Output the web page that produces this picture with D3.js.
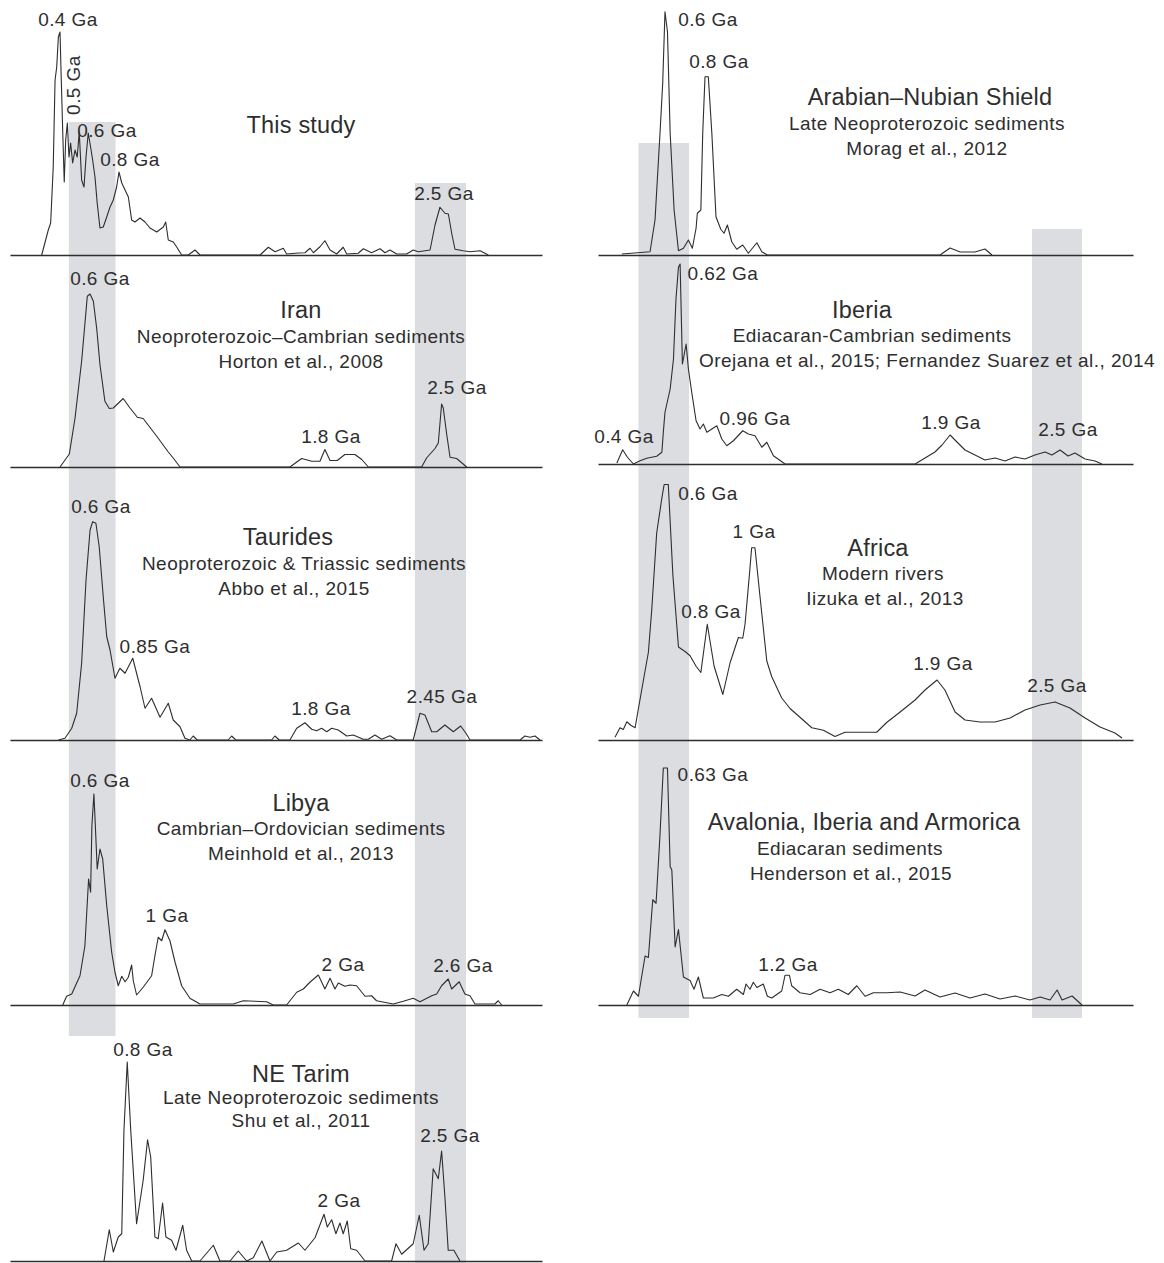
<!DOCTYPE html>
<html>
<head>
<meta charset="utf-8">
<script src="https://cdn.jsdelivr.net/npm/d3@7"></script>
<style>
    body { margin: 0; background: #fff; }
    svg { display: block; }
    text { font-family: "Liberation Sans", Arial, Helvetica, sans-serif; fill: #2e2e2e; }
</style>
</head>
<body>
<svg id="chart"></svg>
<script>
/*
    Detrital zircon age spectra, 9 panels (ages in Ga, relative probability 0-100)
 */

// ---- left column ----
const thisStudyAge = [0.326,0.362,0.375,0.389,0.399,0.408,0.417,0.426,0.431,0.441,0.449,0.457,0.466,0.475,0.484,0.495,0.508,0.520,0.531,0.544,0.557,0.568,0.580,0.593,0.604,0.617,0.629,0.644,0.662,0.681,0.699,0.717,0.735,0.748,0.763,0.781,0.799,0.817,0.835,0.863,0.890,0.917,0.954,0.990,1.003,1.017,1.044,1.063,1.090,1.126,1.163,1.190,1.518,1.563,1.600,1.645,1.663,1.727,1.763,1.791,1.809,1.845,1.872,1.900,1.936,1.972,1.991,2.054,2.082,2.127,2.173,2.200,2.227,2.264,2.318,2.354,2.382,2.446,2.473,2.500,2.527,2.546,2.564,2.582,2.627,2.664,2.719,2.764];
const thisStudyProb = [0,10,12.8,35.2,70,75.2,87.2,89.2,75.2,48.8,29.2,46,52.8,39.2,44.8,36.8,42,39.2,49.2,30,27.2,39.2,48.8,43.2,38,31.2,20.8,10.8,11.2,15.2,19.2,22,27.2,33.2,28.8,26,23.2,14,13.2,14.8,13.2,10.8,9.2,11.2,13.2,6,5.2,3.2,0,0,2,0,0,3.1,1.3,2.7,0.4,0.8,0.9,2.7,0.9,3.3,5.7,2,0.4,3.1,0.4,0.7,2.5,0.9,2.5,0.9,2,0.4,0.4,2,1.3,2,12,19.1,16.7,16.4,8.7,2.3,1.7,1.3,1.7,0];

const iranAge = [0.426,0.477,0.508,0.544,0.575,0.590,0.608,0.626,0.644,0.671,0.695,0.717,0.771,0.808,0.848,0.880,0.954,1.017,1.044,1.081,1.681,1.745,1.800,1.845,1.872,1.900,1.939,1.981,2.036,2.073,2.109,2.400,2.427,2.473,2.491,2.509,2.518,2.537,2.555,2.591,2.646];
const iranProb = [0,5.2,19.6,42.3,68.3,69.2,66.3,55.6,41,26.3,23.4,23.6,27.4,23.6,19.9,19.4,12.3,6,3.6,0,0,3.4,2.3,2.3,7,2.6,2.6,5,5,3,0,0,3.6,7.4,9.6,25.2,23.6,13,3.9,3.4,0];

const tauridesAge = [0.417,0.453,0.490,0.517,0.544,0.568,0.590,0.604,0.622,0.640,0.662,0.681,0.699,0.726,0.753,0.781,0.823,0.863,0.890,0.926,0.972,1.017,1.044,1.081,1.108,1.135,1.153,1.175,1.344,1.363,1.386,1.581,1.599,1.623,1.681,1.718,1.763,1.800,1.827,1.854,1.882,1.909,1.945,1.991,2.027,2.081,2.109,2.145,2.182,2.227,2.264,2.354,2.391,2.418,2.455,2.482,2.527,2.573,2.613,2.642,2.664,2.937,2.964,2.991,3.019,3.046];
const tauridesProb = [0,0.7,4.7,10.7,30.7,64,84,87.3,86.7,77.3,57.3,41.3,36,24.7,28.7,26.7,32.7,21.3,12.7,16.7,9.1,14.7,8,5.3,0.7,0,1.6,0,0,1.6,0,0,1.6,0,0,4.7,6.9,4.3,3.7,4.7,3.3,4.7,4,1.6,2,0.3,0.3,2,0.3,1.7,0,0,10.7,10,3.3,3.3,6,3.3,5.6,2.7,0,0,1.6,1.1,1.6,0];

const libyaAge = [0.441,0.462,0.490,0.535,0.562,0.575,0.582,0.593,0.600,0.611,0.618,0.629,0.644,0.659,0.681,0.708,0.726,0.744,0.763,0.781,0.799,0.817,0.826,0.844,0.880,0.926,0.944,0.962,0.981,0.999,1.026,1.054,1.090,1.135,1.190,1.372,1.426,1.554,1.590,1.663,1.718,1.754,1.790,1.836,1.872,1.900,1.927,1.945,1.981,2.009,2.045,2.091,2.127,2.154,2.245,2.300,2.354,2.391,2.455,2.482,2.509,2.545,2.564,2.605,2.636,2.664,2.691,2.800,2.818,2.837];
const libyaProb = [0,3.5,4.4,11.7,23.7,41.1,50.4,45.1,71.7,84.4,73.1,54.4,62.4,58.4,39.7,21.1,13.1,7.7,11.5,9.3,11.1,16,9.7,4,7.1,11.7,19.7,27.1,25.7,30.1,25.7,17.1,7.7,2.7,0.4,0.4,1.7,1.3,0,0,5.1,6.4,9.1,12,6.4,10.7,6.4,8.8,7.5,8,7.7,3.5,3.7,1.7,0.4,1.5,2.7,1.3,3.7,4.4,7.7,10.4,6.4,9.3,4.4,3.7,0.4,0.4,1.7,0];

const tarimAge = [0.666,0.695,0.717,0.744,0.763,0.775,0.793,0.812,0.844,0.880,0.904,0.921,0.944,0.962,0.986,1.004,1.035,1.059,1.096,1.117,1.145,1.190,1.263,1.299,1.354,1.399,1.445,1.481,1.528,1.572,1.609,1.663,1.727,1.763,1.818,1.867,1.885,1.909,1.932,1.954,1.972,1.994,2.013,2.045,2.091,2.236,2.260,2.291,2.354,2.387,2.413,2.436,2.463,2.491,2.509,2.527,2.545,2.576,2.609];
const tarimProb = [0,12.5,3.6,9.6,10.9,52.3,79.6,52.3,14.9,32.3,48.5,41.6,9.6,8.9,23.2,9.6,8.3,4.3,14.3,4.3,0,0,6.3,0,0,4,0,1.3,8,0,3.6,4.3,7.2,4.3,9.3,18.7,13.6,16.5,10.9,15.2,10.9,16,4.9,4.3,0,0,6.9,2.7,6.9,18.3,4.3,6.9,36.9,32.9,44,25.6,4.3,4.3,0];

// ---- right column ----
const ansAge = [0.401,0.537,0.561,0.585,0.598,0.609,0.621,0.634,0.653,0.674,0.698,0.722,0.741,0.759,0.765,0.782,0.791,0.802,0.818,0.835,0.855,0.878,0.894,0.910,0.931,0.955,0.984,1.011,1.052,1.076,1.103,1.935,1.984,2.032,2.104,2.152,2.186];
const ansProb = [0.4,1.3,14,48.7,68.7,97.3,89.3,48.7,18,1.7,2.7,6,2.7,10.7,16.7,18,48.7,71.3,71.3,48.7,15.3,10.3,8.7,12,5.3,2.3,4,0.7,4.9,1.3,0,0,2.8,1.2,1.2,2.4,0];

const iberiaAge = [0.377,0.405,0.428,0.457,0.489,0.521,0.569,0.594,0.601,0.609,0.634,0.650,0.662,0.674,0.682,0.693,0.711,0.722,0.738,0.759,0.778,0.794,0.811,0.835,0.859,0.883,0.907,0.939,0.984,1.011,1.043,1.076,1.100,1.132,1.188,1.815,1.863,1.911,1.945,1.984,2.017,2.056,2.104,2.152,2.201,2.249,2.297,2.345,2.393,2.442,2.475,2.514,2.553,2.586,2.635,2.683,2.716];
const iberiaProb = [0.4,5.7,2.7,0,1.3,2.3,3.1,4.7,12.7,20.7,30,42,66,78.7,80,40,48,38,28.7,17.3,14,16,12.7,14,15.3,10,7.3,9.3,13.3,12,11.3,6.7,8.7,3.3,0,0,2.4,4.8,7.6,11.6,8.8,5.6,3.6,1.6,2.4,1.2,2.8,2,3.6,4.8,3.6,5.6,3.2,4.4,2,1.2,0];

const africaAge = [0.368,0.392,0.408,0.425,0.444,0.465,0.481,0.505,0.529,0.545,0.569,0.594,0.605,0.625,0.647,0.674,0.706,0.730,0.759,0.782,0.813,0.846,0.888,0.923,0.963,0.984,0.995,1.016,1.027,1.043,1.067,1.100,1.124,1.172,1.212,1.260,1.317,1.373,1.429,1.477,1.630,1.678,1.743,1.815,1.863,1.921,1.959,2.008,2.056,2.128,2.201,2.273,2.345,2.418,2.490,2.562,2.635,2.707,2.779,2.813];
const africaProb = [1.1,4.9,4.2,7.3,5.9,4.9,12.6,23.9,35.1,51.9,82.8,96.8,102.2,102.2,66,37.2,35.4,33.7,29.5,27,46.3,29.5,18.2,30.9,41,40.7,46.3,66,76.9,76.9,57.6,31.6,25.3,16.8,12.6,9.1,4.9,3.9,1.4,3.1,3.1,7,11.2,16,20,24,20,11.2,8,7.2,7.2,8.8,12,14,15.2,12.8,8.8,5.2,2.8,0.8];

const avaloniaAge = [0.425,0.457,0.481,0.513,0.529,0.550,0.566,0.585,0.601,0.621,0.634,0.642,0.658,0.674,0.698,0.730,0.749,0.770,0.794,0.842,0.883,0.915,0.955,0.987,1.000,1.019,1.035,1.052,1.083,1.103,1.124,1.172,1.188,1.209,1.220,1.260,1.309,1.357,1.405,1.445,1.493,1.534,1.574,1.614,1.678,1.743,1.815,1.863,1.935,2.008,2.080,2.152,2.225,2.297,2.369,2.418,2.466,2.500,2.524,2.572,2.620];
const avaloniaProb = [0,5.6,3.5,19.6,19,42.1,40.7,68.1,94.8,94.8,55.4,54,23.2,30.2,11.2,9.8,6.3,11.2,2.8,2.8,4.2,3.5,6.3,4.2,8.4,6.3,9.1,7,8.4,3.5,2.8,5.6,11.9,11.9,7.7,4.9,4.2,6.3,4.9,6.3,4.2,7.7,3.5,4.9,4.9,5.2,3.6,6,3.2,4.8,2.8,4.4,2.4,3.6,2,3.2,2,6,2,3.6,0];

// shaded age windows (Ga)
const bandAges = [[0.474, 0.729], [2.363, 2.642], [0.481, 0.725], [2.379, 2.620]];

const config = {
    width: 1164,
    height: 1263,
    unitPx: 250,          // px for 100 units of relative probability
    ink: "#2e2e2e",
    band: "#dcdde0",
    titleSize: 23.5,
    titleSpacing: 0.2,
    textSize: 19,
    textSpacing: 0.45
};

const xScales = {
    left: d3.scaleLinear().domain([0.153, 3.057]).range([10, 542]),
    right: d3.scaleLinear().domain([0.286, 2.866]).range([598, 1133])
};

// bands: column, ages, top, bottom
const bands = [
    {col: "left", ages: bandAges[0], top: 122, bottom: 1036},
    {col: "left", ages: bandAges[1], top: 183, bottom: 1263},
    {col: "right", ages: bandAges[2], top: 143, bottom: 1018},
    {col: "right", ages: bandAges[3], top: 229, bottom: 1018}
];

// text entries: [text, x, y, isTitle]
const panels = [
    {col: "left", base: 255, age: thisStudyAge, prob: thisStudyProb,
        texts: [["This study", 301, 133, 1], ["0.4 Ga", 68, 26], ["0.6 Ga", 107, 137], ["0.8 Ga", 130, 166], ["2.5 Ga", 444, 200]]},
    {col: "left", base: 467, age: iranAge, prob: iranProb,
        texts: [["Iran", 301, 318, 1], ["Neoproterozoic–Cambrian sediments", 301, 343], ["Horton et al., 2008", 301, 368],
            ["0.6 Ga", 100, 285], ["1.8 Ga", 331, 443], ["2.5 Ga", 457, 394]]},
    {col: "left", base: 740, age: tauridesAge, prob: tauridesProb,
        texts: [["Taurides", 288, 545, 1], ["Neoproterozoic & Triassic sediments", 304, 570], ["Abbo et al., 2015", 294, 595],
            ["0.6 Ga", 101, 513], ["0.85 Ga", 155, 653], ["1.8 Ga", 321, 715], ["2.45 Ga", 442, 703]]},
    {col: "left", base: 1005, age: libyaAge, prob: libyaProb,
        texts: [["Libya", 301, 811, 1], ["Cambrian–Ordovician sediments", 301, 835], ["Meinhold et al., 2013", 301, 860],
            ["0.6 Ga", 100, 787], ["1 Ga", 167, 922], ["2 Ga", 343, 971], ["2.6 Ga", 463, 972]]},
    {col: "left", base: 1261, age: tarimAge, prob: tarimProb,
        texts: [["NE Tarim", 301, 1082, 1], ["Late Neoproterozoic sediments", 301, 1104], ["Shu et al., 2011", 301, 1127],
            ["0.8 Ga", 143, 1056], ["2 Ga", 339, 1207], ["2.5 Ga", 450, 1142]]},
    {col: "right", base: 255, age: ansAge, prob: ansProb,
        texts: [["Arabian–Nubian Shield", 930, 105, 1], ["Late Neoproterozoic sediments", 927, 130], ["Morag et al., 2012", 927, 155],
            ["0.6 Ga", 708, 26], ["0.8 Ga", 719, 68]]},
    {col: "right", base: 464, age: iberiaAge, prob: iberiaProb,
        texts: [["Iberia", 862, 318, 1], ["Ediacaran-Cambrian sediments", 872, 342], ["Orejana et al., 2015; Fernandez Suarez et al., 2014", 927, 367],
            ["0.62 Ga", 723, 280], ["0.4 Ga", 624, 443], ["0.96 Ga", 755, 425], ["1.9 Ga", 951, 429], ["2.5 Ga", 1068, 436]]},
    {col: "right", base: 740, age: africaAge, prob: africaProb,
        texts: [["Africa", 878, 556, 1], ["Modern rivers", 883, 580], ["Iizuka et al., 2013", 885, 605],
            ["0.6 Ga", 708, 500], ["1 Ga", 754, 538], ["0.8 Ga", 711, 618], ["1.9 Ga", 943, 670], ["2.5 Ga", 1057, 692]]},
    {col: "right", base: 1005, age: avaloniaAge, prob: avaloniaProb,
        texts: [["Avalonia, Iberia and Armorica", 864, 830, 1], ["Ediacaran sediments", 850, 855], ["Henderson et al., 2015", 851, 880],
            ["0.63 Ga", 713, 781], ["1.2 Ga", 788, 971]]}
];

const svg = d3.select("#chart")
    .attr("width", config.width)
    .attr("height", config.height)
    .attr("viewBox", `0 0 ${config.width} ${config.height}`);

// gray windows behind everything
svg.append("g")
    .selectAll("rect")
    .data(bands)
    .join("rect")
    .attr("x", d => xScales[d.col](d.ages[0]))
    .attr("width", d => xScales[d.col](d.ages[1]) - xScales[d.col](d.ages[0]))
    .attr("y", d => d.top)
    .attr("height", d => d.bottom - d.top)
    .attr("fill", config.band);

panels.forEach(p => {
    const x = xScales[p.col];
    const y = d3.scaleLinear().domain([0, 100]).range([p.base, p.base - config.unitPx]);
    const g = svg.append("g");

    // baseline via axis, no ticks
    g.append("g")
        .attr("transform", `translate(0, ${p.base})`)
        .call(d3.axisBottom(x).tickValues([]).tickSizeOuter(0))
        .call(a => a.select(".domain").attr("stroke", config.ink).attr("stroke-width", 1.3));

    const line = d3.line()
        .x(d => x(d[0]))
        .y(d => y(d[1]));

    g.append("path")
        .datum(d3.zip(p.age, p.prob))
        .attr("d", line)
        .attr("fill", "none")
        .attr("stroke", config.ink)
        .attr("stroke-width", 1.1)
        .attr("stroke-linejoin", "round");

    g.selectAll("text.lbl")
        .data(p.texts)
        .join("text")
        .attr("class", "lbl")
        .attr("x", d => d[1])
        .attr("y", d => d[2])
        .attr("text-anchor", "middle")
        .attr("font-size", d => d[3] ? config.titleSize : config.textSize)
        .attr("letter-spacing", d => d[3] ? config.titleSpacing : config.textSpacing)
        .text(d => d[0]);
});

// vertical label on the first panel
svg.append("text")
    .attr("transform", "translate(80, 85) rotate(-90)")
    .attr("text-anchor", "middle")
    .attr("font-size", config.textSize)
    .attr("letter-spacing", config.textSpacing)
    .text("0.5 Ga");
</script>
</body>
</html>
